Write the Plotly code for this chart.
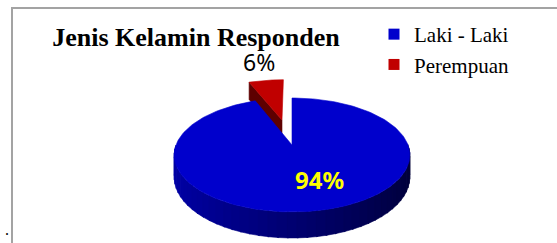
import numpy as np
import plotly.graph_objects as go

# ---------------- data ----------------
categories = ["Laki - Laki", "Perempuan"]
values = [94, 6]
top_colors = ["#0000CC", "#C00000"]
chart_title = "Jenis Kelamin Responden"

# ---------------- layout / geometry parameters ----------------
W, H = 557, 243
CX, CY = 292, 145          # projected pie centre
RX, RY = 116, 55.2         # projected radii
K = 0.175                  # perspective factor
DEPTH = 21.5               # thickness of the 3-D pie
EXPLODE = [0.0, 0.5]
SIDE_LEFT = np.array([0, 0, 168])
SIDE_RIGHT = np.array([0, 0, 58])
RADIAL_DARK = ["#00006A", "#5E0000"]


def proj(x, y, z=0.0):
    d = 1 + K * y
    return CX + RX * x / d, CY + (-RY * y + DEPTH * z) / d


def poly(xs, ys, color):
    return go.Scatter(x=list(xs) + [xs[0]], y=list(ys) + [ys[0]], mode="lines",
                      fill="toself", fillcolor=color,
                      line=dict(color=color, width=0.6),
                      hoverinfo="skip", showlegend=False)


total = sum(values)
slices = []
a = 90.0
for i, v in enumerate(values):
    span = 360.0 * v / total
    a0, a1 = a, a - span
    mid = np.radians((a0 + a1) / 2)
    ox, oy = EXPLODE[i] * np.cos(mid), EXPLODE[i] * np.sin(mid)
    slices.append(dict(i=i, a0=a0, a1=a1, mid=mid, ox=ox, oy=oy))
    a = a1

traces = []
# draw far slices first
for s in sorted(slices, key=lambda s: -np.sin(s["mid"])):
    i, a0, a1, ox, oy = s["i"], s["a0"], s["a1"], s["ox"], s["oy"]
    # radial faces
    for edge, normal in ((a0, a0 + 90), (a1, a1 - 90)):
        if np.sin(np.radians(normal)) < -0.05:
            t = np.radians(edge)
            px = [ox, ox + np.cos(t), ox + np.cos(t), ox]
            py = [oy, oy + np.sin(t), oy + np.sin(t), oy]
            pz = [0, 0, 1, 1]
            xs, ys = zip(*[proj(x, y, z) for x, y, z in zip(px, py, pz)])
            traces.append(poly(xs, ys, RADIAL_DARK[i]))
    # outer curved side (near half only)
    for base in (0.0, -360.0):
        l2, h2 = max(a1, -180 + base), min(a0, 0 + base)
        if h2 > l2:
            edges = np.linspace(l2, h2, 46)
            for t0, t1 in zip(edges[:-1], edges[1:]):
                ts = np.radians(np.linspace(t0, t1 + 0.6, 4))
                top = [proj(ox + np.cos(t), oy + np.sin(t), 0) for t in ts]
                bot = [proj(ox + np.cos(t), oy + np.sin(t), 1) for t in ts[::-1]]
                xs, ys = zip(*(top + bot))
                f = (1 + np.cos(np.radians((t0 + t1) / 2))) / 2
                c = SIDE_LEFT + (SIDE_RIGHT - SIDE_LEFT) * f
                col = "rgb(%d,%d,%d)" % tuple(c.astype(int))
                if i == 1:
                    col = RADIAL_DARK[i]
                traces.append(poly(xs, ys, col))
    # top face
    ts = np.radians(np.linspace(a0, a1, 200))
    pts = [proj(ox, oy, 0)] + [proj(ox + np.cos(t), oy + np.sin(t), 0) for t in ts]
    xs, ys = zip(*pts)
    traces.append(poly(xs, ys, top_colors[i]))

# legend entries
for name, col in zip(categories, top_colors):
    traces.append(go.Scatter(x=[None], y=[None], mode="markers", name=name,
                             legendgroup=name,
                             marker=dict(symbol="square", size=11, color=col)))

fig = go.Figure(traces)

# data labels
annotations = []
label_r = [0.574, 2.08]
label_font = [dict(family="Noto Sans", size=24, color="#FFFF00", weight="bold"),
              dict(family="Noto Sans", size=23, color="#000000")]
label_shift = [14, 0]
for s in slices:
    i = s["i"]
    lx, ly = proj(label_r[i] * np.cos(s["mid"]), label_r[i] * np.sin(s["mid"]), 0)
    annotations.append(dict(x=lx, y=ly, xref="x", yref="y", showarrow=False,
                            text="%d%%" % round(100 * values[i] / total),
                            font=label_font[i], xshift=label_shift[i],
                            xanchor="center", yanchor="middle"))
annotations.append(dict(x=7, y=240, xref="x", yref="y", showarrow=False, text=".",
                        font=dict(family="Liberation Serif", size=16, color="#000"),
                        xanchor="center", yanchor="bottom"))

fig.update_layout(
    width=W, height=H,
    margin=dict(l=0, r=0, t=0, b=0),
    paper_bgcolor="white", plot_bgcolor="white",
    xaxis=dict(range=[0, W], visible=False, fixedrange=True),
    yaxis=dict(range=[H, 0], visible=False, fixedrange=True),
    title=dict(text=chart_title, x=196 / W, xanchor="center", xref="paper",
               y=1 - 37 / H, yanchor="middle", yref="container",
               font=dict(family="Liberation Serif", size=26, color="#000", weight="bold")),
    legend=dict(x=374 / W, xanchor="left", y=1 - 14 / H, yanchor="top",
                font=dict(family="Liberation Serif", size=21, color="#000"),
                traceorder="grouped", tracegroupgap=0,
                bgcolor="rgba(0,0,0,0)"),
    annotations=annotations,
    shapes=[dict(type="rect", xref="x", yref="y", x0=12, y0=8, x1=700, y1=400,
                 line=dict(color="#A3A3A3", width=2))],
)

fig.write_html("out.html", config={"displayModeBar": False},
               post_script="document.body.style.margin='0';")
